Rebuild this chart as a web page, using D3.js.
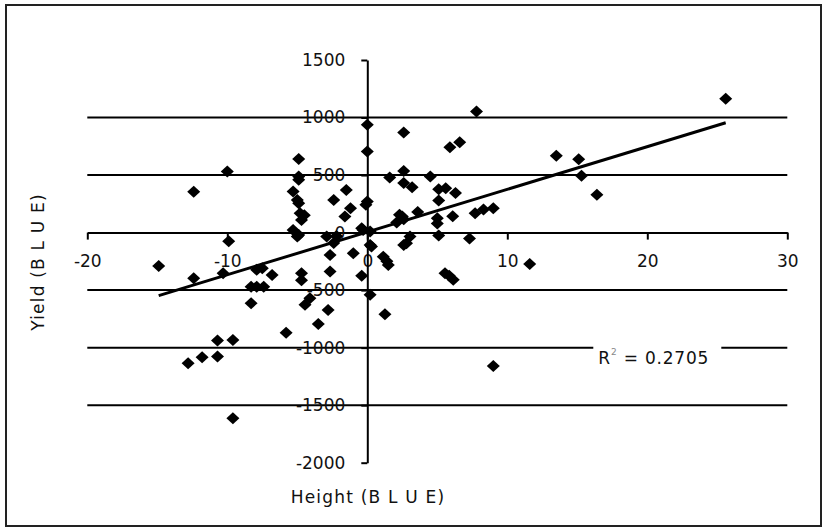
<!DOCTYPE html>
<html>
<head>
<meta charset="utf-8">
<script src="https://cdn.jsdelivr.net/npm/d3@7"></script>
<style>
  body { margin: 0; background: #fff; }
  svg text { font-family: "DejaVu Sans", Verdana, sans-serif; fill: #111; }
</style>
</head>
<body>
<div id="chart"></div>
<script>
// Height (BLUE) vs Yield (BLUE) values
const heightBlue = [
  -14.9, -12.4, -12.4, -10.0, -9.9, -10.3, -7.9, -7.5, -6.8, -8.3, -7.9, -7.4, -8.3,
  -10.7, -9.6, -12.8, -11.8, -10.7, -9.6, -5.8,
  -4.9, -4.9, -4.9, -5.3, -4.9, -5.0, -4.8, -4.7, -4.5, -5.3, -4.9, -5.0, -4.7, -4.7, -4.1, -4.45,
  -2.4, -1.5, -1.2, -1.6, -2.9, -2.4, -2.2, -2.66, -2.66, -2.8, -3.5, -1.0, -0.4,
  0.0, 0.0, -0.1, 0.0, -0.3, -0.4, 0.2, 0.2, 0.3, 0.2, 1.26, 1.14, 1.4, 1.5,
  2.6, 7.8, 5.9, 6.6, 13.5, 15.1, 15.3, 16.4, 25.6, 1.6, 2.6, 2.6, 3.2, 4.5, 5.1, 5.6, 6.3,
  5.1, 3.6, 2.3, 2.6, 2.1, 2.5, 6.1, 7.7, 8.3, 9.0, 5.0, 5.0, 5.1, 7.3, 3.05, 2.6, 2.8,
  5.55, 5.85, 6.14, 11.6, 9.0
];
const yieldBlue = [
  -290, 356, -397, 530, -75, -353, -324, -310, -368, -470, -470, -470, -614,
  -939, -933, -1136, -1084, -1078, -1614, -870,
  640, 487, 460, 357, 255, 284, 168, 110, 150, 23, -20, -35, -353, -415, -570, -628,
  284, 371, 212, 139, -35, -90, -29, -194, -339, -672, -795, -180, -375,
  937, 704, 241, 270, 23, 38, 9, -107, -122, -541, -710, -209, -250, -281,
  870, 1052, 742, 786, 667, 638, 493, 328, 1163, 478, 535, 430, 395, 487, 377, 386, 343,
  278, 180, 154, 115, 87, 139, 143, 169, 200, 212, 80, 125, -25, -52, -35, -107, -92,
  -353, -375, -411, -272, -1159
];

const xTicks = [-20, -10, 0, 10, 20, 30];
const yTicks = [1500, 1000, 500, 0, -500, -1000, -1500, -2000];
const gridValues = [1000, 500, -500, -1000, -1500];

// linear trendline as shown on the chart
const trendSlope = 37.1;
const trendIntercept = 5;
const trendRange = [-14.9, 25.6];
const r2Label = "0.2705";

const W = 823, H = 529;
const points = heightBlue.map((h, i) => ({x: h, y: yieldBlue[i]}));

const svg = d3.select("#chart").append("svg")
  .attr("width", W)
  .attr("height", H);

// chart frame
svg.append("rect")
  .attr("x", 6).attr("y", 5)
  .attr("width", 815).attr("height", 521)
  .attr("fill", "#fff")
  .attr("stroke", "#222")
  .attr("stroke-width", 2);

const xScale = d3.scaleLinear().domain([-20, 30]).range([87.3, 787.3]);
const yScale = d3.scaleLinear().domain([-2000, 1500]).range([462.7, 60]);

// horizontal gridlines
svg.selectAll(".grid")
  .data(gridValues)
  .enter()
  .append("line")
  .attr("x1", xScale(-20))
  .attr("x2", xScale(30))
  .attr("y1", d => yScale(d))
  .attr("y2", d => yScale(d))
  .attr("stroke", "#000")
  .attr("stroke-width", 2);

// axes crossing at the origin
const xAxis = svg.append("g")
  .attr("transform", `translate(0,${yScale(0)})`)
  .call(d3.axisBottom(xScale).tickValues(xTicks).tickSizeInner(7).tickSizeOuter(0)
    .tickFormat(d => String(d)));
xAxis.select(".domain").attr("stroke", "#000").attr("stroke-width", 2);
xAxis.selectAll(".tick line").attr("stroke", "#000").attr("stroke-width", 2);
xAxis.selectAll(".tick text")
  .attr("y", 22)
  .style("font-family", "DejaVu Sans, sans-serif")
  .style("font-size", "17px");

const yAxis = svg.append("g")
  .attr("transform", `translate(${xScale(0)},0)`)
  .call(d3.axisLeft(yScale).tickValues(yTicks).tickSizeInner(6).tickSizeOuter(0)
    .tickFormat(d => String(d)));
yAxis.select(".domain").attr("stroke", "#000").attr("stroke-width", 2);
yAxis.selectAll(".tick line").attr("stroke", "#000").attr("stroke-width", 2);
yAxis.selectAll(".tick text")
  .attr("x", -22)
  .style("font-family", "DejaVu Sans, sans-serif")
  .style("font-size", "17px");

// trendline
svg.append("line")
  .attr("x1", xScale(trendRange[0]))
  .attr("y1", yScale(trendSlope * trendRange[0] + trendIntercept))
  .attr("x2", xScale(trendRange[1]))
  .attr("y2", yScale(trendSlope * trendRange[1] + trendIntercept))
  .attr("stroke", "#000")
  .attr("stroke-width", 3);

// diamond markers
const diamond = "M0,-6L6.5,0L0,6L-6.5,0Z";
svg.selectAll(".pt")
  .data(points)
  .enter()
  .append("path")
  .attr("d", diamond)
  .attr("transform", d => `translate(${xScale(d.x)},${yScale(d.y)})`)
  .attr("fill", "#000");

// R squared label with white box
const r2 = svg.append("g").attr("transform", `translate(${xScale(16.5)},${yScale(-1000)})`);
r2.append("rect")
  .attr("x", -5).attr("y", -10)
  .attr("width", 128).attr("height", 24)
  .attr("fill", "#fff");
const r2Text = r2.append("text")
  .attr("y", 16)
  .style("font-size", "17px")
  .style("letter-spacing", "0.8px");
r2Text.append("tspan").text("R");
r2Text.append("tspan").attr("dy", -9).style("font-size", "9px").style("fill", "#888").text("2");
r2Text.append("tspan").attr("dy", 9).text(" = " + r2Label);

// axis titles
svg.append("text")
  .attr("x", 368)
  .attr("y", 503)
  .attr("text-anchor", "middle")
  .style("font-size", "17px")
  .style("letter-spacing", "1.2px")
  .text("Height (B L U E)");

svg.append("text")
  .attr("transform", "translate(44,262) rotate(-90)")
  .attr("text-anchor", "middle")
  .style("font-size", "17px")
  .style("letter-spacing", "1.2px")
  .text("Yield (B L U E)");
</script>
</body>
</html>
